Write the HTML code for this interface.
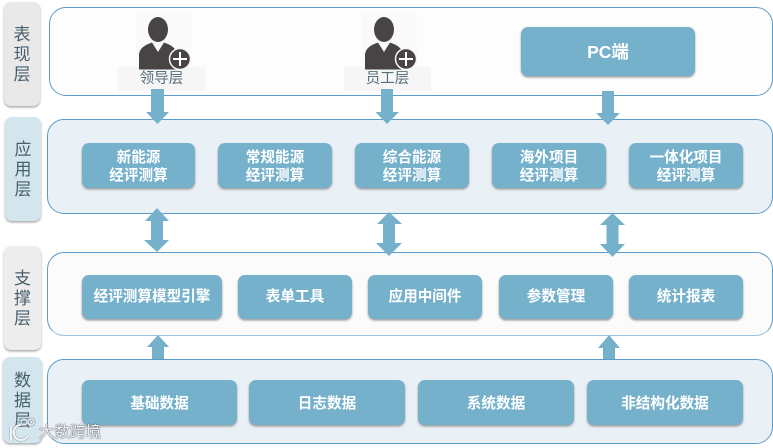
<!DOCTYPE html>
<html><head><meta charset="utf-8">
<style>
html,body{margin:0;padding:0;background:#fff}
body{width:773px;height:448px;overflow:hidden;position:relative;font-family:"Liberation Sans","Noto Sans CJK SC",sans-serif}
div{position:absolute;box-sizing:border-box}
.side{border-radius:7px;color:#48606e;font-size:17px;line-height:20px;text-align:center;display:flex;align-items:center;justify-content:center;box-shadow:0 1.5px 2px #aaa;padding-top:1px}
.panel{border:1.3px solid #5b9bc9;border-radius:17px}
.btn{background:#76b1cc;border-radius:7px;color:#fff;font-weight:bold;font-size:14.6px;line-height:18.500px;text-align:center;display:flex;align-items:center;justify-content:center;box-shadow:0 1.5px 2px #999}
.dn{padding-top:3px}
.lab{background:#f6f6f6;color:#58707c;font-size:14.5px;text-align:center;line-height:24px}
</style></head><body>
<div class="side" style="left:4px;top:2px;width:36px;height:104px;background:#e9e9e9">表<br>现<br>层</div>
<div class="side" style="left:5px;top:117px;width:36px;height:104px;background:#d3e6ee">应<br>用<br>层</div>
<div class="side" style="left:4px;top:246px;width:37px;height:104px;background:#ededed">支<br>撑<br>层</div>
<div class="side" style="left:3px;top:357px;width:39px;height:86px;background:#d3e6ee">数<br>据<br>层</div>

<div class="panel" style="left:49px;top:7px;width:724px;height:89px;background:#fdfdfd"></div>
<div class="panel" style="left:47px;top:119px;width:726px;height:95px;background:#e9f1f7"></div>
<div class="panel" style="left:47px;top:252px;width:726px;height:84px;background:#fbfbfb;border-bottom-color:#9cc3e0"></div>
<div class="panel" style="left:47px;top:359px;width:726px;height:85px;background:#e9f1f7"></div>

<div class="btn" style="left:521px;top:27px;width:174px;height:49px;font-size:17.500px;padding-top:2px">PC端</div>

<div class="btn dn" style="left:82px;top:143px;width:113px;height:45px">新能源<br>经评测算</div>
<div class="btn dn" style="left:218px;top:143px;width:114px;height:45px">常规能源<br>经评测算</div>
<div class="btn dn" style="left:355px;top:143px;width:114px;height:45px">综合能源<br>经评测算</div>
<div class="btn dn" style="left:492px;top:143px;width:114px;height:45px">海外项目<br>经评测算</div>
<div class="btn dn" style="left:629px;top:143px;width:114px;height:45px">一体化项目<br>经评测算</div>

<div class="btn" style="left:82px;top:275px;width:140px;height:44px">经评测算模型引擎</div>
<div class="btn" style="left:238px;top:275px;width:114px;height:44px">表单工具</div>
<div class="btn" style="left:368px;top:275px;width:114px;height:44px">应用中间件</div>
<div class="btn" style="left:499px;top:275px;width:114px;height:44px">参数管理</div>
<div class="btn" style="left:629px;top:275px;width:114px;height:44px">统计报表</div>

<div class="btn dn" style="left:82px;top:380px;width:155px;height:45px">基础数据</div>
<div class="btn dn" style="left:249px;top:380px;width:156px;height:45px">日志数据</div>
<div class="btn dn" style="left:418px;top:380px;width:156px;height:45px">系统数据</div>
<div class="btn dn" style="left:587px;top:380px;width:156px;height:45px">非结构化数据</div>

<div style="left:136px;top:12px;width:55px;height:56px;background:#fafafa"></div>
<div style="left:362px;top:12px;width:55px;height:56px;background:#fafafa"></div>
<div class="lab" style="left:118px;top:67px;width:87px;height:24px">领导层</div>
<div class="lab" style="left:344px;top:67px;width:87px;height:24px">员工层</div>

<svg width="773" height="448" style="position:absolute;left:0;top:0">
<defs>
<g id="p">
<ellipse cx="158" cy="29.500" rx="10" ry="12.500" fill="#484344"/>
<path d="M139 69.500V56C139 48 145 45 152 42.500L158 52L164 42.500C171 45 177 48 177 56V69.500Z" fill="#484344"/>
<circle cx="180" cy="59" r="10.500" fill="#484344" stroke="#f4f4f4" stroke-width="1.500"/>
<path d="M173 59H187M180 52V66" stroke="#fff" stroke-width="2"/>
</g>
</defs>
<use href="#p" x="0" y="0"/>
<use href="#p" x="226" y="0"/>
<g fill="#76b1cc">
<path d="M151 89H164V112H169L157.500 124L146 112H151Z"/>
<path d="M381 89H393V112H399L387 124L375.500 112H381Z"/>
<path d="M602 91H614V113H620L608 125L596 113H602Z"/>
<path d="M157 208L169 221H163V240H169L157 252L144 240H151V221H145Z"/>
<path d="M389 212L402 224H395V243H402L389 256L376 243H383V224H377Z"/>
<path d="M612.500 213L625 225H618.500V244H625L612.500 257L600 244H606.500V225H600Z"/>
<path d="M158 335L169 347H164V359H152V347H147Z"/>
<path d="M609 335L620 348H615V359H603V348H598Z"/>
</g>
<g fill="none" stroke="#8a99a3" stroke-width="3.500" opacity=".55">
<path d="M11 427V441M28 436C24 442 15 441 14 434C13 429 16 425 21 425"/>
<circle cx="24" cy="422" r="3"/><circle cx="31" cy="422" r="3"/>
</g>
<g fill="none" stroke="#f3f6f8" stroke-width="2">
<path d="M11 427V441M28 436C24 442 15 441 14 434C13 429 16 425 21 425"/>
<circle cx="24" cy="422" r="3" stroke-width="1"/><circle cx="31" cy="422" r="3" stroke-width="1"/>
</g>
</svg>

<div style="left:39px;top:423px;width:66px;height:20px;color:rgba(245,248,250,.95);font-size:15.500px;line-height:20px;text-shadow:0 0 1.500px #556,0 0 1px #556;white-space:nowrap">大数跨境</div>
</body></html>
